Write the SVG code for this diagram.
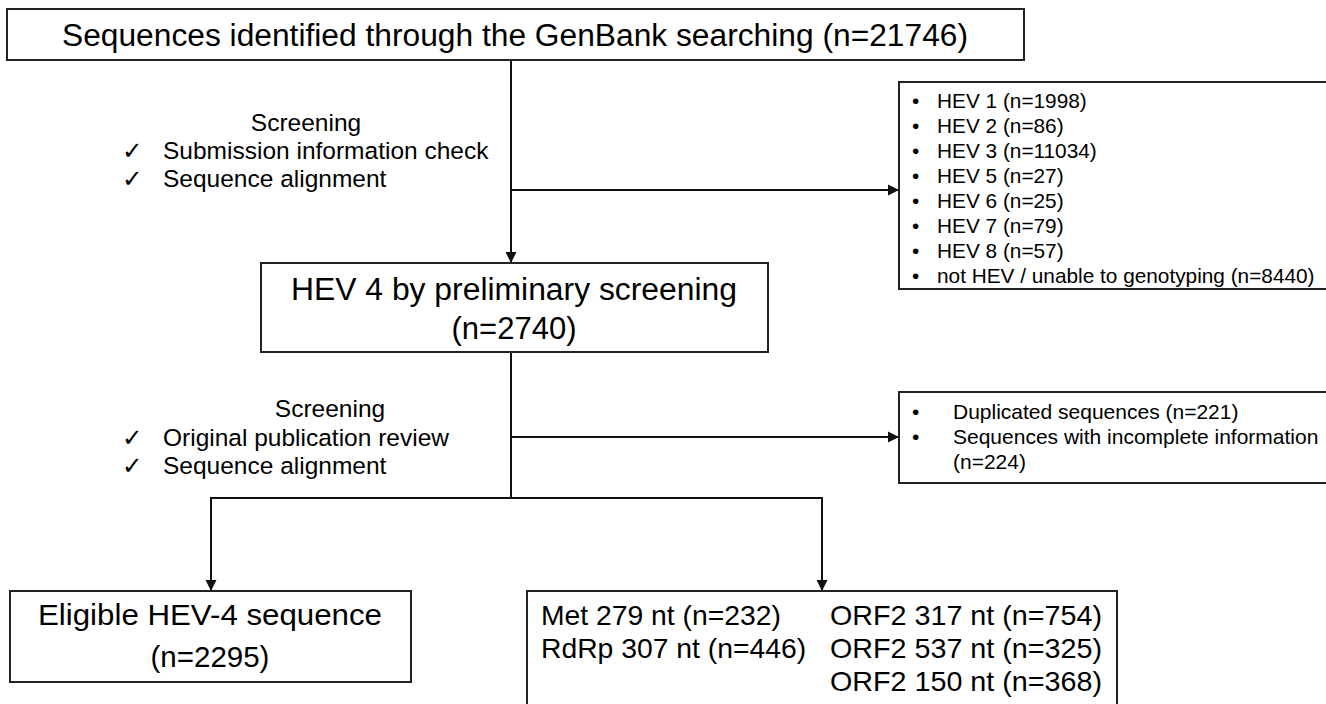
<svg xmlns="http://www.w3.org/2000/svg" width="1326" height="704" viewBox="0 0 1326 704">
<defs>
<marker id="arr" markerUnits="userSpaceOnUse" markerWidth="12" markerHeight="12" refX="11" refY="6" orient="auto">
<path d="M0,0.5 L11,6 L0,11.5 z" fill="#111"/>
</marker>
<style>
.box{fill:#fff;stroke:#222;stroke-width:2}
.ln{fill:none;stroke:#111;stroke-width:2}
text{font-family:"Liberation Sans","DejaVu Sans",Arial,sans-serif;fill:#000}
.t30{font-size:31px}
.t24{font-size:24.5px}
.t20{font-size:20.8px}
.t21{font-size:21px}
.t27{font-size:28.3px}
.mid{text-anchor:middle}
</style>
</defs>
<rect width="1326" height="704" fill="#fff"/>

<g id="connectors">
<line class="ln" x1="511" y1="60" x2="511" y2="263" marker-end="url(#arr)"/>
<line class="ln" x1="511" y1="190" x2="899" y2="190" marker-end="url(#arr)"/>
<line class="ln" x1="511" y1="352" x2="511" y2="498"/>
<line class="ln" x1="511" y1="437" x2="899" y2="437" marker-end="url(#arr)"/>
<line class="ln" x1="210" y1="498" x2="823" y2="498"/>
<line class="ln" x1="211" y1="498" x2="211" y2="591" marker-end="url(#arr)"/>
<line class="ln" x1="822" y1="498" x2="822" y2="591" marker-end="url(#arr)"/>
</g>

<g id="node-genbank">
<rect class="box" x="7" y="9" width="1017" height="51"/>
<text class="t30 mid" x="515" y="46" textLength="906" lengthAdjust="spacingAndGlyphs">Sequences identified through the GenBank searching (n=21746)</text>
</g>

<g id="label-screening1">
<text class="t24 mid" x="306" y="131">Screening</text>
<text class="t24" x="122" y="159">✓</text>
<text class="t24" x="163" y="159">Submission information check</text>
<text class="t24" x="122" y="187">✓</text>
<text class="t24" x="163" y="187">Sequence alignment</text>
</g>

<g id="node-excluded1">
<rect class="box" x="899" y="82" width="440" height="207"/>
<g class="t20">
<text x="912" y="108">•</text><text x="937" y="108">HEV 1 (n=1998)</text>
<text x="912" y="133">•</text><text x="937" y="133">HEV 2 (n=86)</text>
<text x="912" y="158">•</text><text x="937" y="158">HEV 3 (n=11034)</text>
<text x="912" y="183">•</text><text x="937" y="183">HEV 5 (n=27)</text>
<text x="912" y="208">•</text><text x="937" y="208">HEV 6 (n=25)</text>
<text x="912" y="233">•</text><text x="937" y="233">HEV 7 (n=79)</text>
<text x="912" y="258">•</text><text x="937" y="258">HEV 8 (n=57)</text>
<text x="912" y="283">•</text><text x="937" y="283">not HEV / unable to genotyping (n=8440)</text>
</g>
</g>

<g id="node-hev4">
<rect class="box" x="261" y="263" width="507" height="89"/>
<text class="t30 mid" x="514" y="300" textLength="446" lengthAdjust="spacingAndGlyphs">HEV 4 by preliminary screening</text>
<text class="t30 mid" x="514" y="339">(n=2740)</text>
</g>

<g id="label-screening2">
<text class="t24 mid" x="330" y="417">Screening</text>
<text class="t24" x="122" y="446">✓</text>
<text class="t24" x="163" y="446">Original publication review</text>
<text class="t24" x="122" y="474">✓</text>
<text class="t24" x="163" y="474">Sequence alignment</text>
</g>

<g id="node-excluded2">
<rect class="box" x="899" y="392" width="440" height="91"/>
<g class="t21">
<text x="912" y="419">•</text><text x="953" y="419">Duplicated sequences (n=221)</text>
<text x="912" y="444">•</text><text x="953" y="444">Sequences with incomplete information</text>
<text x="953" y="469">(n=224)</text>
</g>
</g>

<g id="node-eligible">
<rect class="box" x="10" y="591" width="401" height="91"/>
<text class="mid" x="210" y="625" font-size="29" textLength="344" lengthAdjust="spacingAndGlyphs">Eligible HEV-4 sequence</text>
<text class="mid" x="210" y="667" font-size="29.5">(n=2295)</text>
</g>

<g id="node-regions">
<rect class="box" x="527" y="591" width="590" height="130"/>
<g class="t27">
<text x="541" y="625">Met 279 nt (n=232)</text>
<text x="541" y="658">RdRp 307 nt (n=446)</text>
<text x="830" y="625" textLength="272" lengthAdjust="spacingAndGlyphs">ORF2 317 nt (n=754)</text>
<text x="830" y="658" textLength="272" lengthAdjust="spacingAndGlyphs">ORF2 537 nt (n=325)</text>
<text x="830" y="691" textLength="272" lengthAdjust="spacingAndGlyphs">ORF2 150 nt (n=368)</text>
</g>
</g>
</svg>
